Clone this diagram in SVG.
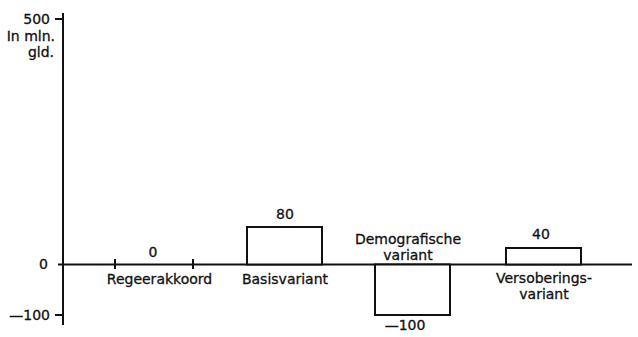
<svg xmlns="http://www.w3.org/2000/svg" width="638" height="337" viewBox="0 0 638 337">
<style>
text{font-family:"DejaVu Sans","Liberation Sans",Arial,sans-serif;font-size:14px;fill:#111;stroke:#111;stroke-width:0.3}
.m{text-anchor:middle}
.e{text-anchor:end}
.ax{stroke:#111;stroke-width:2;fill:none}
.bar{stroke:#111;stroke-width:2;fill:#fff}
</style>
<rect width="638" height="337" fill="#fff"/>
<g id="axes">
<line class="ax" x1="63" y1="13" x2="63" y2="325"/>
<line class="ax" x1="55" y1="19" x2="63" y2="19"/>
<line class="ax" x1="55" y1="315" x2="63" y2="315"/>
<line class="ax" x1="58" y1="264.5" x2="632" y2="264.5"/>
<line class="ax" x1="115" y1="259" x2="115" y2="269"/>
<line class="ax" x1="193" y1="259" x2="193" y2="269"/>
<text class="e" x="50" y="24">500</text>
<text class="e" x="55" y="41">In mln.</text>
<text class="e" x="54" y="57">gld.</text>
<text class="e" x="48" y="269">0</text>
<text class="e" x="50" y="320">—100</text>
</g>
<g id="regeerakkoord">
<text class="m" x="153" y="257">0</text>
<text class="m" x="159.5" y="284">Regeerakkoord</text>
</g>
<g id="basisvariant">
<rect class="bar" x="247" y="227" width="75" height="37.5"/>
<text class="m" x="285" y="219">80</text>
<text class="m" x="285" y="284">Basisvariant</text>
</g>
<g id="demografische">
<rect class="bar" x="375" y="264.5" width="75" height="50.5"/>
<text class="m" x="408" y="243.5">Demografische</text>
<text class="m" x="408" y="260">variant</text>
<text class="m" x="405" y="330">—100</text>
</g>
<g id="versobering">
<rect class="bar" x="506" y="248" width="75" height="16.5"/>
<text class="m" x="541" y="239">40</text>
<text class="m" x="544" y="283">Versoberings-</text>
<text class="m" x="544" y="299">variant</text>
</g>
</svg>
